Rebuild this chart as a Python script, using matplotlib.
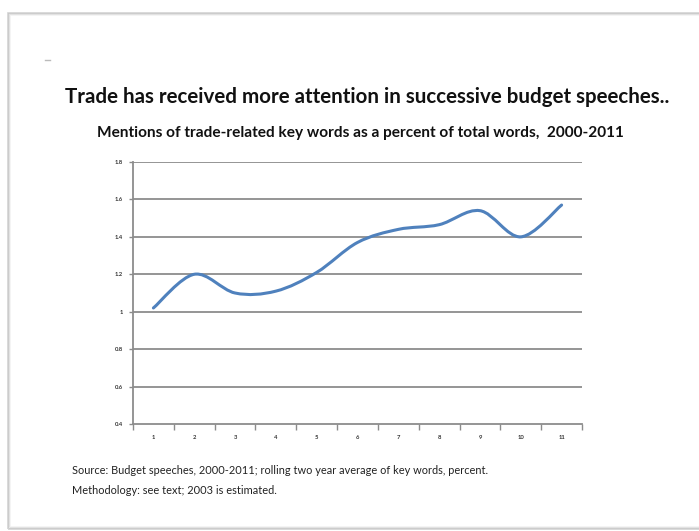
import numpy as np
import matplotlib
matplotlib.use("Agg")
import matplotlib.pyplot as plt
from matplotlib.path import Path
from matplotlib.patches import PathPatch, Rectangle

# Rolling two-year average of trade-related key words (percent of total words)
periods = [1, 2, 3, 4, 5, 6, 7, 8, 9, 10, 11]
mentions = [1.02, 1.20, 1.10, 1.11, 1.21, 1.37, 1.44, 1.465, 1.54, 1.40, 1.57]
y_ticks = [0.4, 0.6, 0.8, 1.0, 1.2, 1.4, 1.6, 1.8]
y_labels = ["0.4", "0.6", "0.8", "1", "1.2", "1.4", "1.6", "1.8"]

title = "Trade has received more attention in successive budget speeches.."
subtitle = "Mentions of trade-related key words as a percent of total words,  2000-2011"
note_1 = "Source: Budget speeches, 2000-2011; rolling two year average of key words, percent."
note_2 = "Methodology: see text; 2003 is estimated."

W, H = 699, 531
fig = plt.figure(figsize=(W / 100, H / 100), dpi=100)
fig.patch.set_facecolor("white")

# page frame with a soft shadow
for k, a in enumerate([0.10, 0.18, 0.35]):
    fig.add_artist(Rectangle(((10 - k) / W, (531 - 527 - k) / H), (W + 20) / W, (527 - 15 + 2 * k) / H,
                             transform=fig.transFigure, fill=False,
                             edgecolor=(0.5, 0.5, 0.5, a), linewidth=1.2))
fig.add_artist(plt.Line2D([45 / W, 50 / W], [1 - 60 / H, 1 - 60 / H], transform=fig.transFigure,
                          color="#bbbbbb", linewidth=1))

ax = fig.add_axes([133 / W, 1 - 424 / H, (582 - 133) / W, (424 - 162) / H])
ax.set_xlim(0.5, 11.5)
ax.set_ylim(0.4, 1.8)

# smoothed line through the points (cubic Bezier segments)
x = np.array(periods, dtype=float)
y = np.array(mentions, dtype=float)
pts = np.column_stack([x, y])
ext = np.vstack([pts[0], pts, pts[-1]])
verts = [tuple(pts[0])]
codes = [Path.MOVETO]
for i in range(len(pts) - 1):
    p0, p1, p2, p3 = ext[i], ext[i + 1], ext[i + 2], ext[i + 3]
    c1 = p1 + (p2 - p0) / 6.0
    c2 = p2 - (p3 - p1) / 6.0
    verts += [tuple(c1), tuple(c2), tuple(p2)]
    codes += [Path.CURVE4] * 3
ax.add_patch(PathPatch(Path(verts, codes), facecolor="none", edgecolor="#4f81bd",
                       linewidth=2.2, capstyle="round", zorder=3))

for v in y_ticks[1:]:
    ax.axhline(v, color="#8c8c8c", linewidth=1.3, zorder=1)

for s in ["top", "right"]:
    ax.spines[s].set_visible(False)
for s in ["left", "bottom"]:
    ax.spines[s].set_color("#8c8c8c")
    ax.spines[s].set_linewidth(1.3)

ax.set_yticks(y_ticks)
ax.set_yticklabels(y_labels, fontsize=4.2, fontweight="bold", color="#333333", family="Lato")
ax.tick_params(axis="y", length=3, width=1, color="#8c8c8c", pad=4)

ax.set_xticks(np.arange(0.5, 12, 1.0))
ax.set_xticklabels([])
ax.tick_params(axis="x", which="major", length=4, width=1, color="#8c8c8c")
ax.set_xticks(periods, minor=True)
ax.set_xticklabels([str(p) for p in periods], minor=True, fontsize=4.2, fontweight="bold",
                   color="#333333", family="Lato")
ax.tick_params(axis="x", which="minor", length=0, pad=8)

fig.text(367 / W, 1 - 97 / H, title, ha="center", va="center", fontsize=14.8,
         fontweight="bold", family="Lato", color="#111111")
fig.text(360 / W, 1 - 133 / H, subtitle, ha="center", va="center", fontsize=11.1,
         fontweight="bold", family="Lato", color="#111111")
fig.text(72 / W, 1 - 470 / H, note_1, ha="left", va="center", fontsize=7.9,
         family="Lato", color="#222222")
fig.text(72 / W, 1 - 491 / H, note_2, ha="left", va="center", fontsize=7.9,
         family="Lato", color="#222222")

fig.savefig("out.png", dpi=100, facecolor="white")
